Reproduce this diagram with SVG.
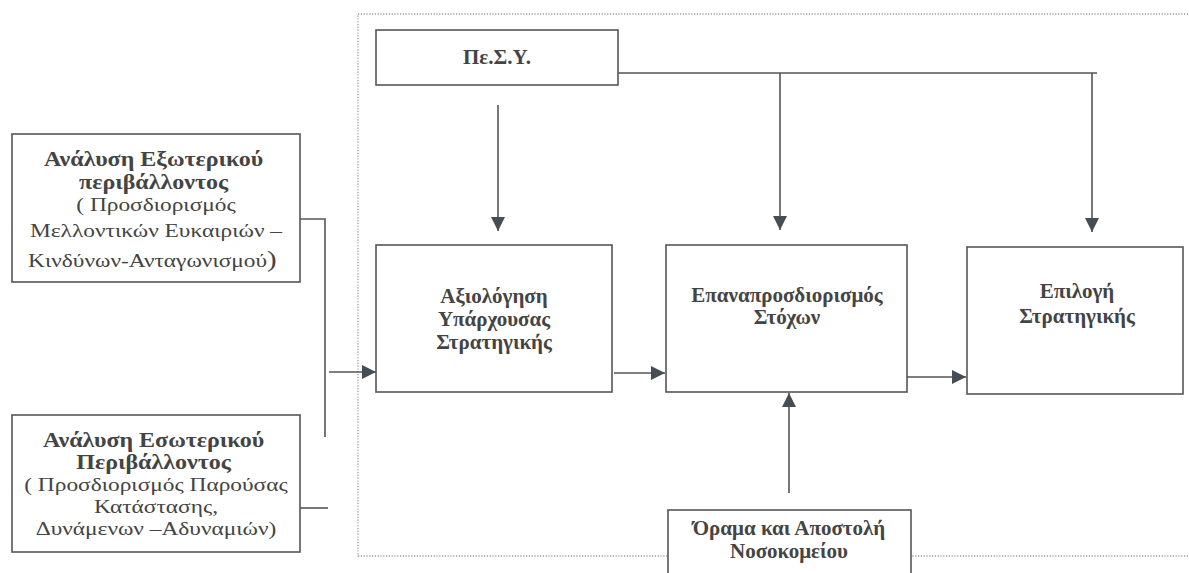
<svg xmlns="http://www.w3.org/2000/svg" width="1189" height="573" viewBox="0 0 1189 573">
  <style>
    .box { fill: #ffffff; stroke: #555555; stroke-width: 1.6; }
    .frame { fill: none; stroke: #9a9a9a; stroke-width: 1.3; stroke-dasharray: 1.2 1.6; }
    .wire { fill: none; stroke: #555555; stroke-width: 1.6; }
    text { font-family: "Liberation Serif", "DejaVu Serif", serif; fill: #444444; text-anchor: middle; }
    .t { font-size: 21px; font-weight: bold; }
    .s { font-size: 20px; font-weight: bold; }
    .n { font-size: 19.5px; }
  </style>
  <defs>
    <marker id="arrow" markerUnits="userSpaceOnUse" markerWidth="16" markerHeight="16" viewBox="0 0 16 16" refX="15" refY="8" orient="auto">
      <path d="M1,1 L15,8 L1,15 Z" fill="#454d55"/>
    </marker>
  </defs>

  <rect width="1189" height="573" fill="#ffffff"/>

  <!-- dotted frame around the strategy process -->
  <rect class="frame" x="358" y="14" width="900" height="542"/>

  <g id="connectors">
    <!-- Πε.Σ.Υ. feeds all three stages -->
    <line class="wire" x1="498" y1="105" x2="498" y2="231" marker-end="url(#arrow)"/>
    <polyline class="wire" points="618,73 1097,73"/>
    <line class="wire" x1="780" y1="73" x2="780" y2="230" marker-end="url(#arrow)"/>
    <line class="wire" x1="1092" y1="73" x2="1092" y2="232" marker-end="url(#arrow)"/>
    <!-- environment analyses -->
    <polyline class="wire" points="300,219 325,219 325,437"/>
    <line class="wire" x1="300" y1="508" x2="328" y2="508"/>
    <line class="wire" x1="329" y1="372" x2="376" y2="372" marker-end="url(#arrow)"/>
    <!-- main flow -->
    <line class="wire" x1="614" y1="373" x2="665" y2="373" marker-end="url(#arrow)"/>
    <line class="wire" x1="907" y1="377" x2="966" y2="377" marker-end="url(#arrow)"/>
    <!-- vision and mission -->
    <line class="wire" x1="789" y1="493" x2="789" y2="393" marker-end="url(#arrow)"/>
  </g>

  <!-- left-hand text is set slightly wide: x scaled by 1.2 about x=156 -->
  <g id="external-analysis">
    <rect class="box" x="12" y="134" width="288" height="148"/>
    <g transform="matrix(1.2 0 0 1 -31.2 0)">
      <text class="s" x="154" y="166">Ανάλυση Εξωτερικού</text>
      <text class="s" x="154" y="189">περιβάλλοντος</text>
      <text class="n" x="156" y="211">( Προσδιορισμός</text>
      <text class="n" x="156" y="237">Μελλοντικών Ευκαιριών –</text>
      <text class="n" x="153" y="267">Κινδύνων-Ανταγωνισμού<tspan font-size="24">)</tspan></text>
    </g>
  </g>

  <g id="internal-analysis">
    <rect class="box" x="12" y="415" width="288" height="137"/>
    <g transform="matrix(1.2 0 0 1 -31.2 0)">
      <text class="s" x="154" y="447">Ανάλυση Εσωτερικού</text>
      <text class="s" x="154" y="469">Περιβάλλοντος</text>
      <text class="n" x="156" y="491">( Προσδιορισμός Παρούσας</text>
      <text class="n" x="156" y="513">Κατάστασης,</text>
      <text class="n" x="156" y="535">Δυνάμενων –Αδυναμιών)</text>
    </g>
  </g>

  <g id="pesy">
    <rect class="box" x="376" y="30" width="242" height="55"/>
    <text class="t" x="497" y="64" font-size="20">Πε.Σ.Υ.</text>
  </g>

  <g id="evaluate-strategy">
    <rect class="box" x="376" y="245" width="236" height="147"/>
    <text class="t" x="494" y="303">Αξιολόγηση</text>
    <text class="t" x="494" y="326">Υπάρχουσας</text>
    <text class="t" x="494" y="349">Στρατηγικής</text>
  </g>

  <g id="redefine-goals">
    <rect class="box" x="666" y="245" width="241" height="147"/>
    <text class="t" x="787" y="302">Επαναπροσδιορισμός</text>
    <text class="t" x="787" y="324">Στόχων</text>
  </g>

  <g id="choose-strategy">
    <rect class="box" x="967" y="247" width="216" height="147"/>
    <text class="t" x="1077" y="298">Επιλογή</text>
    <text class="t" x="1077" y="323">Στρατηγικής</text>
  </g>

  <g id="vision-mission">
    <rect class="box" x="668" y="510" width="243" height="80"/>
    <text class="t" x="789" y="535">Όραμα και Αποστολή</text>
    <text class="t" x="789" y="558">Νοσοκομείου</text>
  </g>
</svg>
